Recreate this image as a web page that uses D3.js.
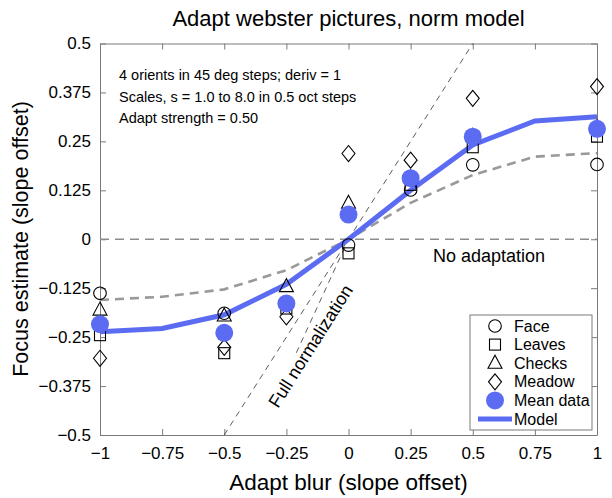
<!DOCTYPE html>
<html><head><meta charset="utf-8">
<script src="https://cdn.jsdelivr.net/npm/d3@7"></script>
<style>body{margin:0;background:#fff}svg{font-family:"Liberation Sans",Arial,sans-serif}</style>
</head><body>
<svg id="c" width="612" height="498"></svg>
<script>
const adaptX = [-1, -0.5, -0.25, 0, 0.25, 0.5, 1];
const face   = [-0.138, -0.189, -0.160, -0.015, 0.126, 0.190, 0.191];
const leaves = [-0.245, -0.291, -0.177, -0.036, 0.139, 0.235, 0.262];
const checks = [-0.181, -0.196, -0.121, 0.092, 0.157, 0.263, 0.285];
const meadow = [-0.304, -0.276, -0.198, 0.219, 0.202, 0.360, 0.390];
const meanData = [-0.217, -0.239, -0.164, 0.063, 0.156, 0.262, 0.282];
const modelX = [-1, -0.75, -0.5, -0.25, 0, 0.25, 0.5, 0.75, 1];
const model  = [-0.236, -0.228, -0.193, -0.115, 0, 0.125, 0.241, 0.302, 0.313];
const noNorm = [-0.155, -0.147, -0.128, -0.079, 0, 0.093, 0.164, 0.211, 0.220];
const xTicks = [-1, -0.75, -0.5, -0.25, 0, 0.25, 0.5, 0.75, 1];
const yTicks = [-0.5, -0.375, -0.25, -0.125, 0, 0.125, 0.25, 0.375, 0.5];
const fullNorm = [[-0.5, -0.5], [0.5, 0.5]];
const fullNorm2 = [[-0.21, -0.29], [0, 0]];
const annot = ["4 orients in 45 deg steps; deriv = 1", "Scales, s = 1.0 to 8.0 in 0.5 oct steps", "Adapt strength = 0.50"];

const svg = d3.select("#c");
const L = 100, R = 597, T = 43.5, B = 435;
const x = d3.scaleLinear().domain([-1, 1]).range([L, R]);
const y = d3.scaleLinear().domain([-0.5, 0.5]).range([B, T]);
const blue = "#5b6cf2";
const fmt = v => (v < 0 ? "\u2212" : "") + String(Math.abs(v));

const axCol = "#7a7a7a";
const gxB = svg.append("g").attr("transform", `translate(0,${B})`)
  .call(d3.axisBottom(x).tickValues(xTicks).tickFormat(fmt).tickSizeInner(-6).tickSizeOuter(0).tickPadding(12));
const gxT = svg.append("g").attr("transform", `translate(0,${T})`)
  .call(d3.axisTop(x).tickValues(xTicks).tickFormat("").tickSizeInner(-6).tickSizeOuter(0));
const gyL = svg.append("g").attr("transform", `translate(${L},0)`)
  .call(d3.axisLeft(y).tickValues(yTicks).tickFormat(fmt).tickSizeInner(-6).tickSizeOuter(0).tickPadding(9));
const gyR = svg.append("g").attr("transform", `translate(${R},0)`)
  .call(d3.axisRight(y).tickValues(yTicks).tickFormat("").tickSizeInner(-6).tickSizeOuter(0));
[gxB, gxT, gyL, gyR].forEach(g => {
  g.selectAll("path,line").attr("stroke", axCol).attr("stroke-width", 1);
  g.selectAll("text").attr("fill", "#000").attr("font-size", 17).attr("font-family", "Liberation Sans, Arial, sans-serif");
});

svg.append("line").attr("x1", x(-1)).attr("x2", x(1)).attr("y1", y(0)).attr("y2", y(0))
  .attr("stroke", "#8c8c8c").attr("stroke-width", 1.5).attr("stroke-dasharray", "9,6");
[fullNorm, fullNorm2].forEach(seg => svg.append("line")
  .attr("x1", x(seg[0][0])).attr("y1", y(seg[0][1]))
  .attr("x2", x(seg[1][0])).attr("y2", y(seg[1][1]))
  .attr("stroke", "#333").attr("stroke-width", 0.8).attr("stroke-dasharray", "6,5"));

const line = d3.line().x(d => x(d[0])).y(d => y(d[1]));
svg.append("path").datum(modelX.map((v, i) => [v, noNorm[i]])).attr("d", line)
  .attr("fill", "none").attr("stroke", "#999").attr("stroke-width", 2.6).attr("stroke-dasharray", "9,6");
svg.append("path").datum(modelX.map((v, i) => [v, model[i]])).attr("d", line)
  .attr("fill", "none").attr("stroke", blue).attr("stroke-width", 5);

function marker(g, type, cx, cy) {
  const st = s => s.attr("fill", "none").attr("stroke", "#000").attr("stroke-width", 1.1);
  if (type === "circle") st(g.append("circle").attr("cx", cx).attr("cy", cy).attr("r", 6.3));
  if (type === "square") st(g.append("rect").attr("x", cx - 5.5).attr("y", cy - 5.5).attr("width", 11).attr("height", 11));
  if (type === "triangle") st(g.append("path").attr("d", `M${cx},${cy - 8}L${cx + 7},${cy + 5}L${cx - 7},${cy + 5}Z`));
  if (type === "diamond") st(g.append("path").attr("d", `M${cx},${cy - 8}L${cx + 6.5},${cy}L${cx},${cy + 8}L${cx - 6.5},${cy}Z`));
}
const series = [["circle", face], ["square", leaves], ["triangle", checks], ["diamond", meadow]];
const gm = svg.append("g");
series.forEach(([t, vals]) => adaptX.forEach((v, i) => marker(gm, t, x(v), y(vals[i]))));
svg.append("g").selectAll("circle").data(adaptX).join("circle")
  .attr("cx", d => x(d)).attr("cy", (d, i) => y(meanData[i])).attr("r", 9).attr("fill", blue);

svg.append("text").attr("x", 348.5).attr("y", 26).attr("text-anchor", "middle").attr("font-size", 22).text("Adapt webster pictures, norm model");
svg.append("text").attr("x", 348.5).attr("y", 490).attr("text-anchor", "middle").attr("font-size", 22.5).text("Adapt blur (slope offset)");
svg.append("text").attr("transform", "translate(28,239) rotate(-90)").attr("text-anchor", "middle").attr("font-size", 21.5).text("Focus estimate (slope offset)");
annot.forEach((t, i) => svg.append("text").attr("x", 119).attr("y", 80 + i * 21.5).attr("font-size", 14.5).text(t));
svg.append("text").attr("x", 433).attr("y", 262).attr("font-size", 18).text("No adaptation");
svg.append("text").attr("transform", "translate(278,409) rotate(-57.6)").attr("font-size", 18).text("Full normalization");

const lg = svg.append("g");
lg.append("rect").attr("x", 470).attr("y", 315).attr("width", 122).attr("height", 115)
  .attr("fill", "#fff").attr("stroke", "#7a7a7a").attr("stroke-width", 1);
const items = [["circle", "Face"], ["square", "Leaves"], ["triangle", "Checks"], ["diamond", "Meadow"], ["mean", "Mean data"], ["model", "Model"]];
items.forEach(([t, lab], i) => {
  const cy = 326 + i * 18.6;
  if (t === "mean") lg.append("circle").attr("cx", 495).attr("cy", cy).attr("r", 9).attr("fill", blue);
  else if (t === "model") lg.append("line").attr("x1", 478).attr("x2", 512).attr("y1", cy).attr("y2", cy).attr("stroke", blue).attr("stroke-width", 5);
  else marker(lg, t, 495, cy);
  lg.append("text").attr("x", 514).attr("y", cy + 5.5).attr("font-size", 16).text(lab);
});
</script>
</body></html>
